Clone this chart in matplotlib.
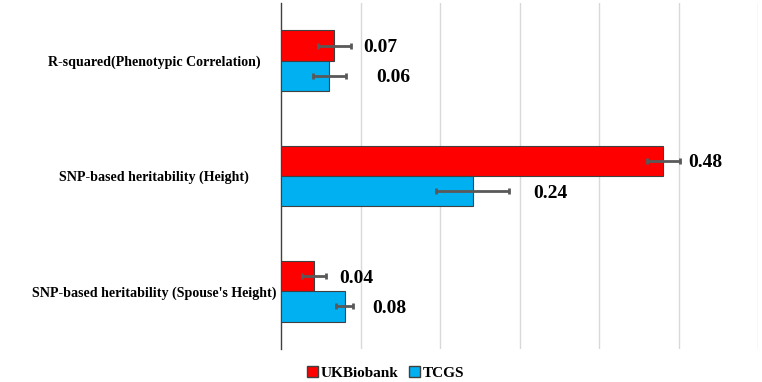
import matplotlib.pyplot as plt
import matplotlib.transforms as mtransforms
from matplotlib.patches import Patch
import numpy as np

# data
categories = ['R-squared(Phenotypic Correlation)',
              'SNP-based heritability (Height)',
              "SNP-based heritability (Spouse's Height)"]
ukb_values = [0.067, 0.481, 0.041]
ukb_err = [0.021, 0.021, 0.015]
tcgs_values = [0.061, 0.241, 0.080]
tcgs_err = [0.021, 0.046, 0.011]
ukb_labels = ['0.07', '0.48', '0.04']
tcgs_labels = ['0.06', '0.24', '0.08']

# label nudges (pixels) as placed by hand in the original
ukb_pad = [12, 8, 14]
tcgs_pad = [30, 24, 19]

plt.rcParams['font.family'] = ['Liberation Serif', 'DejaVu Serif']
plt.rcParams['font.weight'] = 'bold'

fig = plt.figure(figsize=(7.62, 3.82), dpi=100)
ax = fig.add_axes([281 / 762, 1 - 349 / 382, (758 - 281) / 762, (349 - 3) / 382])

y = np.arange(len(categories))
h = 0.262
red = '#FF0000'
blue = '#00B0F0'
ebar = dict(ecolor='#595959', elinewidth=2, capsize=2, capthick=2)

ax.barh(y - h / 2, ukb_values, height=h, color=red, edgecolor='#404040', linewidth=0.8,
        xerr=ukb_err, error_kw=ebar, zorder=3)
ax.barh(y + h / 2, tcgs_values, height=h, color=blue, edgecolor='#404040', linewidth=0.8,
        xerr=tcgs_err, error_kw=ebar, zorder=3)

for i in range(len(categories)):
    ax.annotate(ukb_labels[i], (ukb_values[i] + ukb_err[i], y[i] - h / 2),
                xytext=(ukb_pad[i], -2), textcoords='offset pixels',
                ha='left', va='center', fontsize=14, fontweight='bold')
    ax.annotate(tcgs_labels[i], (tcgs_values[i] + tcgs_err[i], y[i] + h / 2),
                xytext=(tcgs_pad[i], -2), textcoords='offset pixels',
                ha='left', va='center', fontsize=14, fontweight='bold')

ax.set_xlim(0, 0.6)
ax.set_ylim(2.5, -0.5)
ax.set_xticks(np.arange(0.1, 0.61, 0.1))
ax.set_xticklabels([])
ax.set_yticks([])
ax.tick_params(length=0)
ax.grid(axis='x', color='#D9D9D9', linewidth=1, zorder=0)
ax.set_axisbelow(True)
for s in ['top', 'right', 'bottom']:
    ax.spines[s].set_visible(False)
ax.spines['left'].set_color('#404040')
ax.spines['left'].set_linewidth(1)

# category labels centred in the left margin
trans = mtransforms.blended_transform_factory(fig.transFigure, ax.transData)
for i, c in enumerate(categories):
    ax.text(154 / 762, y[i], c, transform=trans, ha='center', va='center_baseline',
            fontsize=10.1, fontweight='bold')

handles = [Patch(facecolor=red, edgecolor='#404040', label='UKBiobank'),
           Patch(facecolor=blue, edgecolor='#404040', label='TCGS')]
fig.legend(handles=handles, loc='center', bbox_to_anchor=(386 / 762, 1 - 373 / 382),
           ncol=2, frameon=False, handlelength=0.7, handleheight=0.7,
           handletextpad=0.2, columnspacing=0.7, prop={'weight': 'bold', 'size': 11})

fig.savefig('out.png', dpi=100)
